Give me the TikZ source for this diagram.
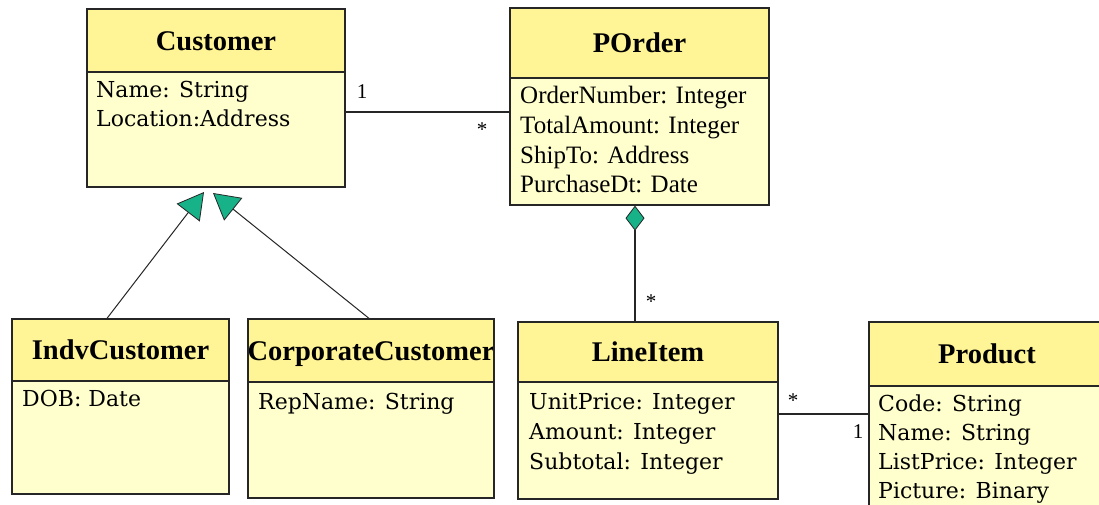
\documentclass[tikz,border=0pt]{standalone}
\usepackage{fontspec}
\setmainfont{DejaVu Serif}
\newfontfamily\titlefont{Liberation Serif}
\usetikzlibrary{arrows.meta,fit}

\definecolor{hdrfill}{RGB}{255,245,150}
\definecolor{bodyfill}{RGB}{255,255,206}
\definecolor{umlteal}{RGB}{24,178,136}

\tikzset{
  boxline/.style={draw=black!85, line width=1.3pt},
  classframe/.style={draw=black!85, line width=1.3pt, inner sep=0pt},
  classtitle/.style={anchor=base, inner sep=0pt,
    font={\titlefont\bfseries\fontsize{28.5}{30}\selectfont}},
  attr/.style={anchor=base west, inner sep=0pt,
    font={\fontsize{22}{26}\selectfont}},
  attrtimes/.style={attr, font={\titlefont\fontsize{25}{28}\selectfont}},
  mult/.style={inner sep=0pt, font={\titlefont\fontsize{21}{24}\selectfont}},
  assoc/.style={draw=black!85, line width=1.2pt},
  gen/.style={draw=black!85, line width=1pt,
    -{Triangle[length=26pt,width=29pt,fill=umlteal,line width=0.8pt]}},
  comp/.style={draw=black!85, line width=1.2pt,
    {Diamond[length=25pt,width=19pt,fill=umlteal,line width=0.8pt]}-},
}

% #1 name, #2 left, #3 top, #4 right, #5 bottom, #6 header bottom, #7 title
\newcommand\umlclass[7]{%
  \fill[bodyfill] (#2,-#3) rectangle (#4,-#5);
  \fill[hdrfill] (#2,-#3) rectangle (#4,-#6);
  \begin{scope}
    \clip (#2,-#3) rectangle (#4,-#6);
    \node[classtitle] (#1-title) at ({(#2+#4)/2},{-(#3+#6)/2-9.5}) {#7};
  \end{scope}
  \draw[boxline] (#2,-#6) -- (#4,-#6);
  \node[classframe, fit={(#2,-#3) (#4,-#5)}] (#1) {};
}

\begin{document}
\begin{tikzpicture}[x=1pt,y=1pt]
  \useasboundingbox (0,0) rectangle (1099,-504);
  \clip (0,0) rectangle (1099,-504);
  \fill[white] (0,0) rectangle (1099,-504);

  % classes
  \umlclass{customer}{87}{9}{345}{187}{72}{Customer}
  \umlclass{porder}{510}{8}{769}{205}{78}{POrder}
  \umlclass{indv}{12}{319}{229}{494}{381}{IndvCustomer}
  \umlclass{corp}{248}{319}{494}{498}{382}{CorporateCustomer}
  \umlclass{lineitem}{518}{322}{778}{499}{382}{LineItem}
  \umlclass{product}{869}{322}{1105}{515}{386}{Product}

  % attributes
  \node[attr] (customer-a1) at (96,-97)  {Name: String};
  \node[attr] (customer-a2) at (96,-126) {Location:Address};

  \node[attrtimes] (porder-a1) at (520,-103) {OrderNumber: Integer};
  \node[attrtimes] (porder-a2) at (520,-133) {TotalAmount: Integer};
  \node[attrtimes] (porder-a3) at (520,-163) {ShipTo: Address};
  \node[attrtimes] (porder-a4) at (520,-192) {PurchaseDt: Date};

  \node[attr] (indv-a1) at (22,-406) {DOB: Date};
  \node[attr] (corp-a1) at (258,-409) {RepName: String};

  \node[attr] (lineitem-a1) at (529,-409) {UnitPrice: Integer};
  \node[attr] (lineitem-a2) at (529,-439) {Amount: Integer};
  \node[attr] (lineitem-a3) at (529,-469) {Subtotal: Integer};

  \node[attr] (product-a1) at (878,-411) {Code: String};
  \node[attr] (product-a2) at (878,-440) {Name: String};
  \node[attr] (product-a3) at (878,-469) {ListPrice: Integer};
  \node[attr] (product-a4) at (878,-498) {Picture: Binary};

  % helper coordinates for connector routes
  \coordinate (rowA) at (0,-112);
  \coordinate (rowB) at (0,-414);
  \coordinate (colC) at (635,0);
  \coordinate (colI) at (107,0);
  \coordinate (colK) at (369,0);
  \coordinate (tipI) at (204,-192);
  \coordinate (tipK) at (213,-193);

  % Customer -- POrder
  \draw[assoc] (customer.east |- rowA) -- (porder.west |- rowA);
  \node[mult] (m1) at (362,-92) {1};
  \node[mult] (m2) at (482,-130) {*};

  % POrder <>-- LineItem
  \draw[comp] (porder.south -| colC) -- (lineitem.north -| colC);
  \node[mult] (m3) at (651,-302) {*};

  % LineItem -- Product
  \draw[assoc] (lineitem.east |- rowB) -- (product.west |- rowB);
  \node[mult] (m4) at (793,-401) {*};
  \node[mult] (m5) at (858,-432) {1};

  % generalizations
  \draw[gen] (indv.north -| colI) -- (tipI);
  \draw[gen] (corp.north -| colK) -- (tipK);
\end{tikzpicture}
\end{document}
